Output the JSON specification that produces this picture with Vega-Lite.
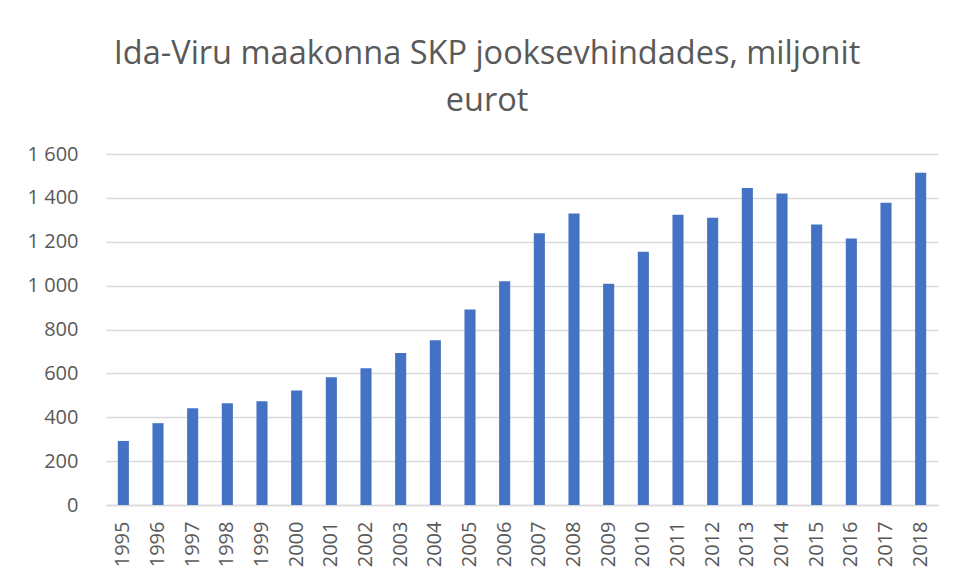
{
  "$schema": "https://vega.github.io/schema/vega-lite/v6.json",
  "width": 832,
  "height": 351,
  "autosize": {"type": "none"},
  "padding": {"left": 106, "top": 154, "right": 19, "bottom": 76},
  "background": "white",
  "title": {
    "text": ["Ida-Viru maakonna SKP jooksevhindades, miljonit", "eurot"],
    "font": "Open Sans",
    "fontSize": 32.5,
    "fontWeight": "normal",
    "color": "#595959",
    "lineHeight": 47,
    "anchor": "middle",
    "dx": -35,
    "offset": 27
  },
  "data": {
    "values": [
      {"year": "1995", "value": 292},
      {"year": "1996", "value": 373},
      {"year": "1997", "value": 441},
      {"year": "1998", "value": 464},
      {"year": "1999", "value": 473},
      {"year": "2000", "value": 522},
      {"year": "2001", "value": 582},
      {"year": "2002", "value": 623},
      {"year": "2003", "value": 693},
      {"year": "2004", "value": 751},
      {"year": "2005", "value": 891},
      {"year": "2006", "value": 1020},
      {"year": "2007", "value": 1239},
      {"year": "2008", "value": 1329},
      {"year": "2009", "value": 1008},
      {"year": "2010", "value": 1154},
      {"year": "2011", "value": 1323},
      {"year": "2012", "value": 1309},
      {"year": "2013", "value": 1445},
      {"year": "2014", "value": 1420},
      {"year": "2015", "value": 1279},
      {"year": "2016", "value": 1215},
      {"year": "2017", "value": 1378},
      {"year": "2018", "value": 1515}
    ]
  },
  "mark": {"type": "bar", "color": "#4472C4"},
  "encoding": {
    "x": {
      "field": "year",
      "type": "ordinal",
      "scale": {"paddingInner": 0.68, "paddingOuter": 0.34},
      "axis": {
        "title": null,
        "labelAngle": -90,
        "labelFont": "Open Sans",
        "labelFontSize": 20,
        "labelColor": "#595959",
        "labelPadding": 16,
        "ticks": false,
        "domainColor": "#d9d9d9",
        "domainWidth": 1.5
      }
    },
    "y": {
      "field": "value",
      "type": "quantitative",
      "scale": {"domain": [0, 1600], "nice": false},
      "axis": {
        "title": null,
        "values": [0, 200, 400, 600, 800, 1000, 1200, 1400, 1600],
        "labelExpr": "replace(format(datum.value, ','), ',', ' ')",
        "labelFont": "Open Sans",
        "labelFontSize": 20,
        "labelColor": "#595959",
        "labelPadding": 28,
        "ticks": false,
        "domain": false,
        "gridColor": "#d9d9d9",
        "gridWidth": 1.5
      }
    }
  },
  "config": {
    "view": {"stroke": null}
  }
}
